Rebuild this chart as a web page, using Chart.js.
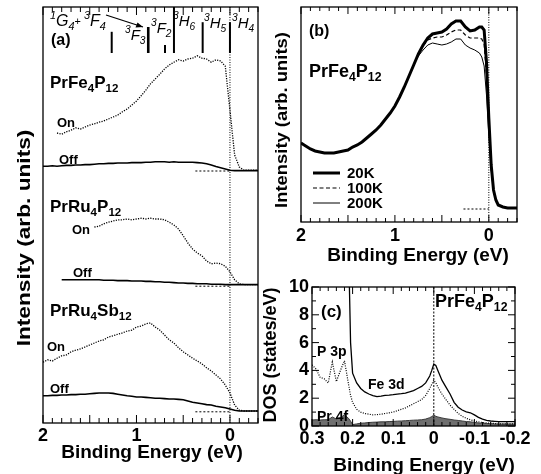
<!DOCTYPE html>
<html>
<head>
<meta charset="utf-8">
<script src="https://cdn.jsdelivr.net/npm/chart.js@4.4.1/dist/chart.umd.min.js"></script>
<style>
  body { margin: 0; background: #fff; }
  #wrap { position: relative; width: 541px; height: 474px; }
  canvas { position: absolute; left: 0; top: 0; }
</style>
</head>
<body>
<div id="wrap">
  <canvas id="ca" width="541" height="474"></canvas>
  <canvas id="cb" width="541" height="474"></canvas>
  <canvas id="cc" width="541" height="474"></canvas>
</div>
<script>
// ---------- panel (a): on/off resonance spectra ----------
const beA = [2.00,1.95,1.90,1.85,1.80,1.75,1.70,1.65,1.60,1.55,1.50,1.45,1.40,1.35,1.30,1.25,1.20,1.15,1.10,1.05,
  1.00,0.95,0.90,0.85,0.80,0.75,0.70,0.65,0.60,0.55,0.50,0.45,0.40,0.35,0.30,0.25,0.20,0.15,0.10,0.05,
  0.00,-0.05,-0.10,-0.15,-0.20,-0.25,-0.30];
const onFe = [null,null,null,72.5,72.2,72.8,73.2,73.8,73.5,74.0, 74.5,74.8,75.2,75.5,76.0,76.5,77.0,77.8,78.5,79.5,
  80.5,81.8,83.2,84.8,86.0,87.2,88.5,89.5,90.2,90.8, 90.5,91.0,91.2,91.8,91.2,91.0,90.2,90.8,90.5,89.2,
  78.2,67.0,64.0,63.2,63.2,63.2,63.2];
const offFe = [64.2,64.2,64.3,64.2,64.3,64.4,64.4,64.5,64.5,64.6, 64.6,64.7,64.8,64.8,64.9,64.9,65.0,65.0,65.0,65.1,
  65.1,65.1,65.2,65.2,65.3,65.3,65.3,65.2,65.3,65.2, 65.2,65.2,65.2,65.1,65.0,64.8,64.5,64.1,63.8,63.5,
  63.2,63.1,63.1,63.1,63.1,63.1,63.1];
const onRu = [null,null,null,null,null,null,null,null,null,null, null,49.0,49.2,49.8,50.2,50.5,50.8,50.8,51.0,50.8,
  51.0,51.2,51.0,51.2,51.0,51.0,50.8,50.2,49.5,48.5, 46.8,45.0,43.5,42.5,41.8,40.5,39.8,40.0,39.8,39.2,
  37.8,35.8,34.8,34.6,34.6,34.6,34.6];
const offRu = [null,null,null,null,35.8,35.8,35.8,35.8,35.8,35.8, 35.8,35.8,35.8,35.7,35.7,35.7,35.6,35.6,35.6,35.5,
  35.5,35.5,35.4,35.4,35.3,35.3,35.2,35.2,35.1,35.0, 35.0,34.9,34.9,34.8,34.8,34.8,34.7,34.7,34.7,34.6,
  34.6,34.6,34.6,34.6,34.6,34.6,34.6];
const onSb = [15.2,15.8,15.5,16.2,16.8,17.0,17.8,18.2,18.5,19.0, 19.5,20.0,20.5,20.8,21.5,21.8,22.2,22.5,23.0,23.2,
  24.0,24.2,24.8,25.0,24.0,23.2,22.0,20.8,20.0,18.8, 17.8,17.0,16.2,15.5,14.8,13.8,13.0,12.0,11.0,9.5,
  7.5,4.5,3.2,3.0,3.0,3.0,3.0];
const offSb = [6.8,6.8,6.9,6.9,7.0,7.0,7.1,7.1,7.2,7.2, 7.3,7.4,7.5,7.5,7.5,7.4,7.2,7.0,6.8,6.7,
  6.5,6.5,6.4,6.3,6.2,6.2,6.1,6.0,6.0,5.9, 5.8,5.5,5.2,5.0,4.8,4.6,4.5,4.2,4.0,3.8,
  3.5,3.2,3.0,3.0,3.0,3.0,3.0];
const baseE = [0.37, 0.00];
const baseA = [63.0, 34.2, 2.8];
// multiplet positions marked at the top of panel (a)
const levelE = [1.265, 0.874, 0.695, 0.599, 0.292, 0.0];
const levelTop = [97.8, 99.0, 94.5, 104, 100.2, 100.2];
const levelBottom = 92.5;
const ticksAx = [2, 1, 0];

// ---------- panel (b): temperature dependence ----------
const beB = [2.00,1.95,1.90,1.85,1.80,1.75,1.70,1.65,1.60,1.55,1.50,1.45,1.40,1.35,1.30,1.25,1.20,1.15,1.10,1.05,
  1.00,0.95,0.90,0.85,0.80,0.75,0.70,0.65,0.60,0.55,0.50,0.45,0.40,0.35,0.30,0.25,0.20,0.15,0.10,
  0.075,0.05,0.025,0.00,-0.025,-0.05,-0.075,-0.10,-0.15,-0.20,-0.25,-0.30];
const t20K = [39.5,38.0,36.5,35.5,35.0,34.5,34.5,34.5,35.0,35.5, 36.0,37.5,38.5,40.0,42.0,44.0,46.0,48.5,51.5,54.5,
  58.0,62.5,67.5,73.0,78.5,84.0,88.5,92.0,94.0,94.5, 95.0,96.5,99.0,100.5,100.5,97.5,95.5,96.0,97.5,
  97.5,96.0,80.0,52.0,28.5,16.0,11.0,8.5,7.5,7.0,7.0,7.0];
const t100K = [39.5,38.0,36.5,35.5,35.0,34.5,34.5,34.5,35.0,35.5, 36.0,37.5,38.5,40.0,42.0,44.0,46.0,48.5,51.5,54.5,
  58.0,62.5,67.5,73.0,78.5,84.0,88.0,91.0,92.0,92.5, 92.5,93.5,95.0,96.0,96.0,93.5,92.0,92.0,92.0,
  91.5,89.0,73.5,48.5,27.0,15.5,10.5,8.5,7.5,7.0,7.0,7.0];
const t200K = [39.5,38.0,36.5,35.5,35.0,34.5,34.5,34.5,35.0,35.5, 36.0,37.5,38.5,40.0,42.0,44.0,46.0,48.5,51.5,54.5,
  58.0,62.5,67.5,73.0,78.5,83.0,86.0,88.5,89.5,89.0, 88.5,89.0,90.0,91.5,91.5,88.5,87.0,86.0,84.5,
  82.5,78.0,63.5,43.5,26.0,16.0,11.0,8.5,7.5,7.0,7.0,7.0];
const baseBE = [0.27, 0.00];
const baseB = 6.5;
const tempLabels = ['20K', '100K', '200K'];
const ticksBx = [2, 1, 0];

// ---------- panel (c): calculated DOS ----------
const beC = [0.30,0.29,0.28,0.27,0.26,0.25,0.24,0.23,0.22,0.21,0.205,0.20,0.19,0.18,0.17,0.16,0.15,0.14,0.13,0.12,0.11,
  0.10,0.09,0.08,0.07,0.06,0.05,0.04,0.03,0.02,0.01,0.005,0.00,-0.005,
  -0.01,-0.02,-0.03,-0.04,-0.05,-0.06,-0.07,-0.08,-0.09,-0.10,-0.11,-0.12,-0.13,-0.14,-0.15,-0.16,-0.17,-0.18,-0.19,-0.20];
const dosFe = [14,14,14,14,14,14,14,14,14,13, 6.0, 3.8,3.1,2.7,2.45,2.3,2.18,2.12,2.15,2.2,2.22,
  2.25,2.3,2.33,2.37,2.45,2.55,2.7,2.85,3.1,3.6, 4.0, 4.45, 4.35,
  4.0,3.3,2.8,2.3,1.7,1.35,1.15,1.02,0.95,0.8, 0.62,0.5,0.4,0.36,0.34,0.32,0.32,0.32,0.32,0.32];
const dosP = [4.4,4.1,3.5,3.4,3.1,4.6,3.2,4.0,4.7,3.0, 2.2, 1.7,1.2,1.0,0.9,0.85,0.8,0.82,0.85,0.9,0.95,
  1.0,1.1,1.2,1.3,1.45,1.6,1.75,1.9,2.2,2.7, 3.0, 3.3, 3.1,
  2.8,2.3,1.9,1.5,1.2,0.9,0.7,0.55,0.45,0.37, 0.3,0.25,0.22,0.2,0.18,0.15,0.15,0.15,0.15,0.15];
const dosPr = [0.43,0.45,0.43,0.45,0.45,0.65,0.5,0.6,0.8,0.55, 0.35, 0.1,0.15,0.2,0.22,0.25,0.27,0.28,0.3,0.3,0.32,
  0.33,0.35,0.36,0.38,0.4,0.42,0.43,0.45,0.5,0.6, 0.68, 0.78, 0.7,
  0.65,0.58,0.52,0.48,0.43,0.4,0.36,0.32,0.3,0.26, 0.22,0.2,0.18,0.16,0.15,0.14,0.14,0.14,0.14,0.14];
const ticksCx = [0.3, 0.2, 0.1, 0, -0.1, -0.2];
const ticksCy = [0, 2, 4, 6, 8, 10];

const FAM = "'Liberation Sans', Arial, Helvetica, sans-serif";
const xy = (xs, ys) => xs.map((x, i) => ({ x, y: ys[i] }));
const flat = (xs, v) => xs.map(x => ({ x, y: v }));

function line(data, width, dash, extra) {
  return Object.assign({ data, borderColor: '#000', borderWidth: width, borderDash: dash || [],
    pointRadius: 0, tension: 0, fill: false, spanGaps: false }, extra || {});
}

// text with sub/superscripts: parts = [[text, 'n' | 'b' | 'p' | 's']]
function rich(ctx, x, y, parts, size, weight, style) {
  ctx.save();
  ctx.textBaseline = 'middle';
  ctx.textAlign = 'left';
  ctx.fillStyle = '#000';
  let cx = x;
  parts.forEach(([t, m]) => {
    const s = m === 'n' ? size : size * 0.68;
    const dy = m === 'b' ? size * 0.32 : m === 'p' ? -size * 0.4 : 0;
    const st = m === 's' ? 'normal' : (style || 'normal');
    ctx.font = `${st} ${weight || 'bold'} ${s}px ${FAM}`;
    ctx.fillText(t, cx, y + dy);
    cx += ctx.measureText(t).width;
  });
  ctx.restore();
}
const formula = (a, b, c, d) => [[a, 'n'], [b, 'b'], [c, 'n'], [d, 'b']];

function text(ctx, t, x, y, size, align) {
  ctx.save();
  ctx.font = `bold ${size}px ${FAM}`;
  ctx.textAlign = align || 'left';
  ctx.textBaseline = 'middle';
  ctx.fillStyle = '#000';
  ctx.fillText(t, x, y);
  ctx.restore();
}

function vText(ctx, t, cx, cy, size, stretch) {
  ctx.save();
  ctx.translate(cx, cy);
  ctx.rotate(-Math.PI / 2);
  ctx.scale(stretch || 1, 1);
  ctx.font = `bold ${size}px ${FAM}`;
  ctx.textAlign = 'center';
  ctx.textBaseline = 'middle';
  ctx.fillStyle = '#000';
  ctx.fillText(t, 0, 0);
  ctx.restore();
}

// tick labels placed through the chart's own scales
function xLabels(chart, vals, y, size) {
  const sx = chart.scales.x;
  vals.forEach(v => text(chart.ctx, String(v), sx.getPixelForValue(v), y, size, 'center'));
}
function yLabels(chart, vals, x, size) {
  const sy = chart.scales.y;
  vals.forEach(v => text(chart.ctx, String(v), x, sy.getPixelForValue(v), size, 'right'));
}

function frame(chart, xTicks, yTicks) {
  const { ctx, chartArea: a, scales } = chart;
  ctx.save();
  ctx.strokeStyle = '#000';
  ctx.lineWidth = 1.3;
  ctx.strokeRect(a.left, a.top, a.right - a.left, a.bottom - a.top);
  ctx.lineWidth = 1;
  ctx.beginPath();
  xTicks.forEach(([v, len]) => {
    const px = scales.x.getPixelForValue(v);
    ctx.moveTo(px, a.top); ctx.lineTo(px, a.top + len);
    ctx.moveTo(px, a.bottom); ctx.lineTo(px, a.bottom - len);
  });
  yTicks.forEach(([v, len]) => {
    const py = scales.y.getPixelForValue(v);
    ctx.moveTo(a.left, py); ctx.lineTo(a.left + len, py);
    ctx.moveTo(a.right, py); ctx.lineTo(a.right - len, py);
  });
  ctx.stroke();
  ctx.restore();
}

function vLine(chart, v, dash) {
  const { ctx, chartArea: a, scales } = chart;
  const px = scales.x.getPixelForValue(v);
  ctx.save();
  ctx.strokeStyle = '#000';
  ctx.lineWidth = 1;
  ctx.setLineDash(dash);
  ctx.beginPath();
  ctx.moveTo(px, a.top); ctx.lineTo(px, a.bottom);
  ctx.stroke();
  ctx.restore();
}

function xScale(min, max, h) {
  return { type: 'linear', reverse: true, min, max,
    grid: { display: false }, border: { display: false }, ticks: { display: false },
    afterFit: s => { s.height = h; } };
}
function yScale(min, max, w) {
  return { min, max, grid: { display: false }, border: { display: false }, ticks: { display: false },
    afterFit: s => { s.width = w; } };
}
const common = { responsive: false, animation: false, events: [],
  plugins: { legend: { display: false }, tooltip: { enabled: false } } };

// ---------- chart (a) ----------
const minorA = [];
for (let i = -3; i <= 20; i++) minorA.push([i / 10, i % 5 === 0 ? 8 : 5]);

new Chart(document.getElementById('ca'), {
  type: 'line',
  data: { datasets: [
    line(xy(beA, onFe), 1.3, [1.2, 1.3]),
    line(xy(beA, offFe), 1.6),
    line(flat(baseE, baseA[0]), 1, [2, 2]),
    line(xy(beA, onRu), 1.3, [1.2, 1.3]),
    line(xy(beA, offRu), 1.6),
    line(flat(baseE, baseA[1]), 1, [2, 2]),
    line(xy(beA, onSb), 1.3, [1.2, 1.3]),
    line(xy(beA, offSb), 1.6),
    line(flat(baseE, baseA[2]), 1, [2, 2])
  ] },
  options: Object.assign({}, common, {
    layout: { padding: { left: 3, top: 7, right: 283, bottom: 3 } },
    scales: { x: xScale(-0.3, 2, 48), y: yScale(0, 104, 40) }
  }),
  plugins: [{
    id: 'decorA',
    afterDatasetsDraw(chart) {
      const { ctx, scales: { x, y } } = chart;
      vLine(chart, 0, [1, 1.5]);
      frame(chart, minorA, []);
      ctx.save();
      ctx.strokeStyle = '#000';
      levelE.forEach((e, i) => {
        ctx.lineWidth = i === 1 ? 2.6 : 2;
        ctx.beginPath();
        ctx.moveTo(x.getPixelForValue(e), y.getPixelForValue(levelTop[i]));
        ctx.lineTo(x.getPixelForValue(e), y.getPixelForValue(levelBottom));
        ctx.stroke();
      });
      // arrow 3F4 -> 3F3
      ctx.lineWidth = 1.2;
      ctx.beginPath();
      ctx.moveTo(106, 15); ctx.lineTo(143, 27);
      ctx.stroke();
      ctx.beginPath();
      ctx.moveTo(143, 27); ctx.lineTo(135.5, 27.6); ctx.lineTo(137.5, 22.4); ctx.closePath();
      ctx.fillStyle = '#000';
      ctx.fill();
      ctx.restore();
      const it = 'italic';
      rich(ctx, 50, 22, [['1', 'p'], ['G', 'n'], ['4', 'b'], ['+ ', 's'], ['3', 'p'], ['F', 'n'], ['4', 'b']], 16, 'normal', it);
      rich(ctx, 125, 36, [['3', 'p'], ['F', 'n'], ['3', 'b']], 15, 'normal', it);
      rich(ctx, 151, 29, [['3', 'p'], ['F', 'n'], ['2', 'b']], 15, 'normal', it);
      rich(ctx, 173, 22, [['3', 'p'], ['H', 'n'], ['6', 'b']], 15, 'normal', it);
      rich(ctx, 204, 24, [['3', 'p'], ['H', 'n'], ['5', 'b']], 15, 'normal', it);
      rich(ctx, 232, 24, [['3', 'p'], ['H', 'n'], ['4', 'b']], 15, 'normal', it);
      text(ctx, '(a)', 51, 41, 16);
      rich(ctx, 50, 83, formula('PrFe', '4', 'P', '12'), 17);
      text(ctx, 'On', 57, 123, 13);
      text(ctx, 'Off', 59, 160, 13);
      rich(ctx, 50, 207, formula('PrRu', '4', 'P', '12'), 17);
      text(ctx, 'On', 72, 230, 13);
      text(ctx, 'Off', 73, 273, 13);
      rich(ctx, 50, 311, formula('PrRu', '4', 'Sb', '12'), 17);
      text(ctx, 'On', 47, 347, 13);
      text(ctx, 'Off', 50, 389, 13);
      xLabels(chart, ticksAx, 436, 18);
      text(ctx, 'Binding Energy (eV)', 152, 453, 19, 'center');
      vText(ctx, 'Intensity (arb. units)', 25, 238, 18, 1.26);
    }
  }]
});

// ---------- chart (b) ----------
const minorB = [];
for (let i = -3; i <= 20; i++) minorB.push([i / 10, i % 5 === 0 ? 7 : 4]);

new Chart(document.getElementById('cb'), {
  type: 'line',
  data: { datasets: [
    line(xy(beB, t20K), 3),
    line(xy(beB, t100K), 1.2, [4, 2.5]),
    line(xy(beB, t200K), 1),
    line(flat(baseBE, baseB), 1, [2, 2])
  ] },
  options: Object.assign({}, common, {
    layout: { padding: { left: 271, top: 7, right: 24, bottom: 212 } },
    scales: { x: xScale(-0.3, 2, 40), y: yScale(0, 107.5, 30) }
  }),
  plugins: [{
    id: 'decorB',
    afterDatasetsDraw(chart) {
      const { ctx } = chart;
      vLine(chart, 0, [1, 1.5]);
      frame(chart, minorB, []);
      text(ctx, '(b)', 309, 32, 16);
      rich(ctx, 309, 72, formula('PrFe', '4', 'P', '12'), 18);
      const styles = [[3, []], [1.2, [4, 2.5]], [1, []]];
      const rows = [173, 188, 203];
      ctx.save();
      ctx.strokeStyle = '#000';
      styles.forEach(([w, d], i) => {
        ctx.lineWidth = w;
        ctx.setLineDash(d);
        ctx.beginPath();
        ctx.moveTo(313, rows[i]); ctx.lineTo(340, rows[i]);
        ctx.stroke();
      });
      ctx.restore();
      tempLabels.forEach((t, i) => text(ctx, t, 347, rows[i] + 1, 15));
      xLabels(chart, ticksBx, 236, 18);
      text(ctx, 'Binding Energy (eV)', 418, 256, 19, 'center');
      vText(ctx, 'Intensity (arb. units)', 283, 120, 16, 1.15);
    }
  }]
});

// ---------- chart (c) ----------
const minorCx = [];
for (let i = -10; i <= 15; i++) minorCx.push([i / 50, i % 5 === 0 ? 7 : 4]);
const minorCy = [];
for (let i = 0; i <= 10; i++) minorCy.push([i, i % 2 === 0 ? 7 : 4]);

new Chart(document.getElementById('cc'), {
  type: 'line',
  data: { datasets: [
    line(xy(beC, dosFe), 1.3),
    line(xy(beC, dosP), 1.2, [1, 1.4]),
    line(xy(beC, dosPr), 1, [], { borderColor: '#3a3a3a', backgroundColor: '#6f6f6f', fill: 'origin' })
  ] },
  options: Object.assign({}, common, {
    layout: { padding: { left: 262, top: 287, right: 26, bottom: 3 } },
    scales: { x: xScale(-0.2, 0.3, 45), y: yScale(0, 10, 50) }
  }),
  plugins: [{
    id: 'decorC',
    afterDatasetsDraw(chart) {
      const { ctx } = chart;
      vLine(chart, 0, [2, 1.5]);
      frame(chart, minorCx, minorCy);
      text(ctx, '(c)', 321, 312, 17);
      rich(ctx, 435, 302, formula('PrFe', '4', 'P', '12'), 18);
      text(ctx, 'P 3p', 317, 352, 14);
      text(ctx, 'Fe 3d', 368, 385, 14);
      text(ctx, 'Pr 4f', 317, 417, 14);
      xLabels(chart, ticksCx, 439, 18);
      yLabels(chart, ticksCy, 309, 18);
      text(ctx, 'Binding Energy (eV)', 424, 466, 19, 'center');
      vText(ctx, 'DOS (states/eV)', 271, 355, 18, 1);
    }
  }]
});
</script>
</body>
</html>
